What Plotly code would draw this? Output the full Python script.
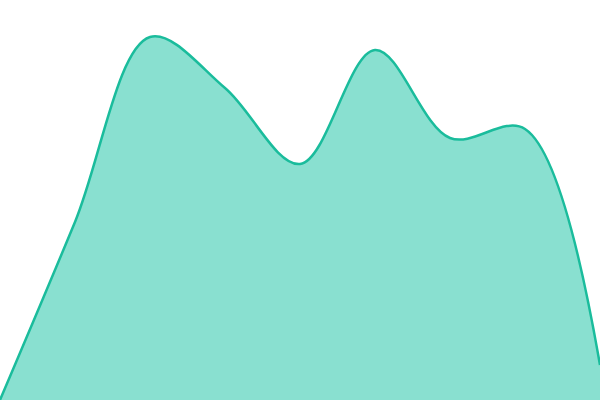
import plotly.graph_objs as go

# Sample points along the curve
steps = [0, 1, 2, 3, 4, 5, 6, 7, 8]
values = [0, 178, 363, 312, 236, 350, 262, 271, 35]

fig = go.Figure()
fig.add_trace(go.Scatter(
    x=steps, y=values,
    mode='lines',
    line=dict(color='#1abc9c', width=2.5, shape='spline', smoothing=1),
    fill='tozeroy',
    fillcolor='#89e0d0',
    hoverinfo='skip',
))
fig.update_layout(
    width=600, height=400,
    margin=dict(l=0, r=0, t=0, b=0),
    paper_bgcolor='white', plot_bgcolor='white',
    showlegend=False,
    xaxis=dict(visible=False, range=[0, 8]),
    yaxis=dict(visible=False, range=[0, 400]),
)

# drop the default page margin so the chart fills the window
fig.write_html("out.html", config={'displayModeBar': False},
               post_script="document.body.style.margin='0';document.body.style.overflow='hidden';")
